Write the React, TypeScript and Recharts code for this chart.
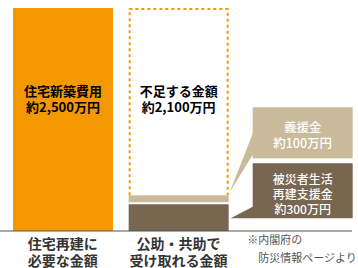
import React from "react";
import { BarChart, Bar, XAxis, YAxis, LabelList } from "recharts";

const categories = ["住宅再建に\n必要な金額", "公助・共助で\n受け取れる金額", ""];
const requiredCost = [2500, 0, 0];
const reliefGrant = [0, 300, 0];
const donation = [0, 100, 0];
const shortage = [0, 2100, 0];

const requiredLabel = "住宅新築費用\n約2,500万円";
const shortageLabel = "不足する金額\n約2,100万円";
const calloutDonation = "義援金\n約100万円";
const calloutGrant = "被災者生活\n再建支援金\n約300万円";
const footnote = ["※内閣府の", "防災情報ページより"];

const data = categories.map((name, i) => ({
  name,
  requiredCost: requiredCost[i],
  reliefGrant: reliefGrant[i],
  donation: donation[i],
  shortage: shortage[i],
}));

const ORANGE = "#F39800";
const TAN = "#C9BA9B";
const BROWN = "#786651";
const FONT = "'Noto Sans CJK JP', 'Noto Sans', sans-serif";

const MultiLine = ({ x, y, text, fill, size, lh, weight, anchor = "middle" }: any) => {
  const lines = text.split("\n");
  const y0 = y - ((lines.length - 1) * lh) / 2;
  return (
    <text
      x={x}
      textAnchor={anchor}
      dominantBaseline="central"
      fill={fill}
      fontSize={size}
      fontWeight={weight}
      fontFamily={FONT}
    >
      {lines.map((l: string, i: number) => (
        <tspan key={i} x={x} y={y0 + i * lh}>
          {l}
        </tspan>
      ))}
    </text>
  );
};

const XTick = ({ x, y, payload, index }: any) => {
  if (index === 2) {
    return (
      <g fontFamily={FONT} fontSize={11} fill="#555">
        <text x={x - 47} y={y + 8} dominantBaseline="central">{footnote[0]}</text>
        <text x={x - 36} y={y + 26} dominantBaseline="central">{footnote[1]}</text>
      </g>
    );
  }
  return <MultiLine x={x} y={y + 20} text={payload.value} fill="#333" size={14} lh={17} weight={700} />;
};

const DonationShape = (p: any) => {
  if (!p.height) return null;
  return <rect x={p.x} y={p.y} width={p.width} height={Math.max(p.height - 2, 0)} fill={TAN} />;
};

const ShortageShape = (p: any) => {
  if (!p.height) return null;
  const { x, y, width, height } = p;
  const l = x + 1;
  const r = x + width - 1;
  return (
    <path
      d={`M${l},${y + height} L${l},${y + 1} L${r},${y + 1} L${r},${y + height}`}
      fill="none"
      stroke={ORANGE}
      strokeWidth={2}
      strokeDasharray="3 3"
    />
  );
};

const InnerLabel = ({ x, y, width, value, fill, text }: any) => {
  if (!value) return null;
  return <MultiLine x={x + width / 2} y={y + 90} text={text} fill={fill} size={13} lh={16} weight={700} />;
};

const DonationCallout = ({ x, y, width, value }: any) => {
  if (!value) return null;
  const bx = x + width + 24;
  const top = y - 88;
  return (
    <g>
      <polygon points={`${bx + 1},${top + 24} ${bx + 1},${top + 46} ${x + width + 1},${y - 3}`} fill={TAN} />
      <rect x={bx} y={top} width={100} height={51} fill={TAN} />
      <MultiLine x={bx + 50} y={top + 27} text={calloutDonation} fill="#fff" size={12.5} lh={16} weight={500} />
    </g>
  );
};

const GrantCallout = ({ x, y, width, value }: any) => {
  if (!value) return null;
  const bx = x + width + 24;
  const top = y - 41;
  return (
    <g>
      <polygon points={`${bx + 1},${top + 43} ${bx + 1},${top + 55} ${x + width + 2},${top + 55}`} fill={BROWN} />
      <rect x={bx} y={top} width={100} height={55} fill={BROWN} />
      <MultiLine x={bx + 50} y={top + 30} text={calloutGrant} fill="#fff" size={12} lh={15} weight={500} />
    </g>
  );
};

export default function App() {
  return (
    <div style={{ position: "absolute", left: 0, top: 0, width: 358, height: 268, background: "#fff" }}>
      <BarChart width={358} height={268} data={data} margin={{ top: 8, right: 6, bottom: 0, left: 0 }} barSize={100}>
        <XAxis
          dataKey="name"
          height={37}
          padding={{ left: 5, right: 0 }}
          axisLine={{ stroke: "#555", strokeWidth: 1 }}
          tickLine={false}
          tickSize={0}
          tickMargin={0}
          interval={0}
          tick={<XTick />}
        />
        <YAxis hide domain={[0, 2500]} />
        <Bar dataKey="requiredCost" stackId="a" fill={ORANGE} isAnimationActive={false}>
          <LabelList dataKey="requiredCost" content={<InnerLabel fill="#fff" text={requiredLabel} />} />
        </Bar>
        <Bar dataKey="reliefGrant" stackId="a" fill={BROWN} isAnimationActive={false}>
          <LabelList dataKey="reliefGrant" content={<GrantCallout />} />
        </Bar>
        <Bar dataKey="donation" stackId="a" fill={TAN} shape={<DonationShape />} isAnimationActive={false}>
          <LabelList dataKey="donation" content={<DonationCallout />} />
        </Bar>
        <Bar dataKey="shortage" stackId="a" shape={<ShortageShape />} isAnimationActive={false}>
          <LabelList dataKey="shortage" content={<InnerLabel fill="#444" text={shortageLabel} />} />
        </Bar>
      </BarChart>
    </div>
  );
}
